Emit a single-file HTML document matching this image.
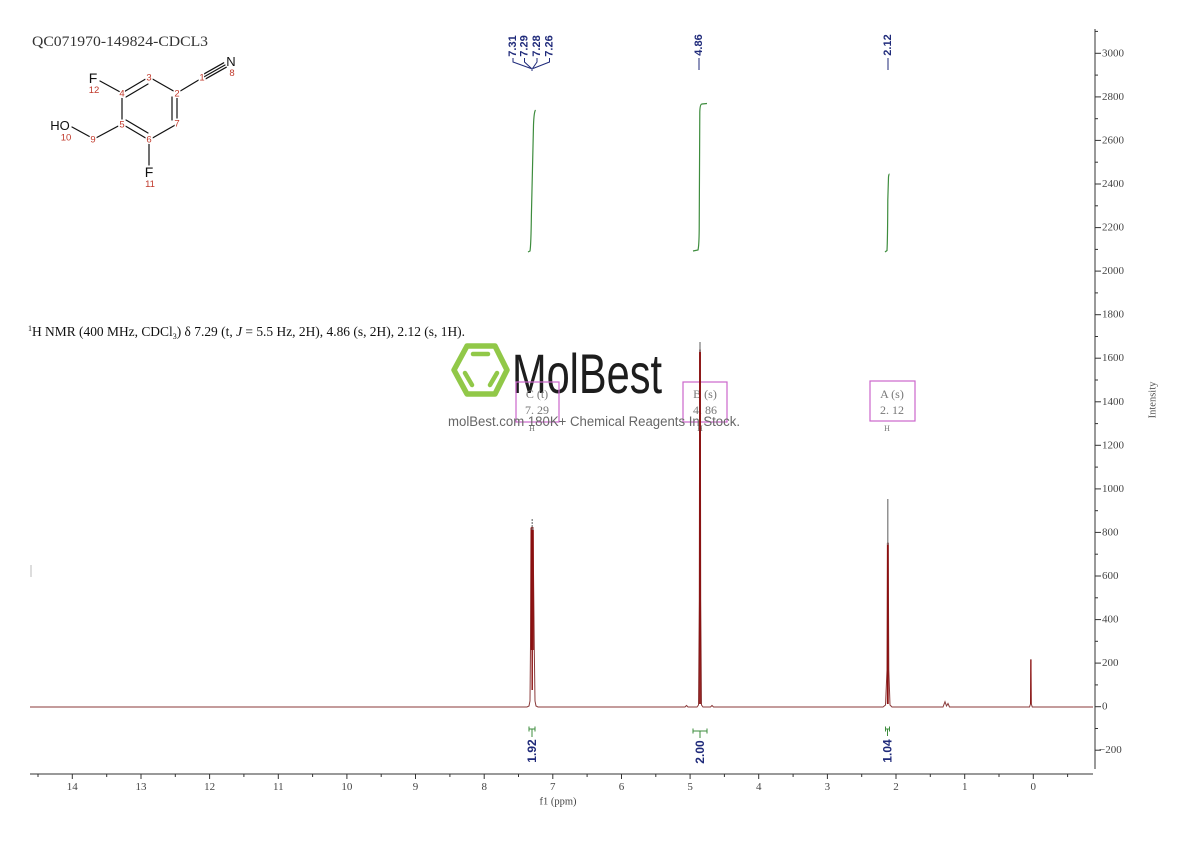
<!DOCTYPE html>
<html><head><meta charset="utf-8"><style>
html,body{margin:0;padding:0;background:#fff;}
svg{display:block;}
</style></head><body>
<svg width="1190" height="841" viewBox="0 0 1190 841" xmlns="http://www.w3.org/2000/svg">
<rect width="1190" height="841" fill="#fff"/>

<!-- Title -->
<text x="32" y="46" font-family="Liberation Serif, serif" font-size="15" fill="#333" textLength="176" lengthAdjust="spacingAndGlyphs">QC071970-149824-CDCL3</text>

<!-- Structure -->
<g stroke="#111" stroke-width="1.2" fill="none" stroke-linecap="round">
  <line x1="100" y1="81" x2="122" y2="93"/>
  <line x1="122" y1="93" x2="149" y2="77"/>
  <line x1="126" y1="97" x2="148" y2="84"/>
  <line x1="149" y1="77" x2="177" y2="93"/>
  <line x1="177" y1="93" x2="177" y2="124"/>
  <line x1="172" y1="97" x2="172" y2="120"/>
  <line x1="177" y1="124" x2="149" y2="140"/>
  <line x1="149" y1="140" x2="122" y2="124"/>
  <line x1="148" y1="133" x2="126" y2="120"/>
  <line x1="122" y1="124" x2="122" y2="93"/>
  <line x1="177" y1="93" x2="202" y2="78"/>
  <line x1="202" y1="78" x2="225" y2="65"/>
  <line x1="203.3" y1="80.2" x2="226.3" y2="67.2"/>
  <line x1="200.7" y1="75.8" x2="223.7" y2="62.8"/>
  <line x1="122" y1="124" x2="94" y2="139"/>
  <line x1="94" y1="139" x2="72" y2="127"/>
  <line x1="149" y1="140" x2="149" y2="165"/>
</g>
<g font-family="Liberation Sans, sans-serif" fill="#111">
  <text x="93" y="83" font-size="14" text-anchor="middle">F</text>
  <text x="149" y="177" font-size="14" text-anchor="middle">F</text>
  <text x="231" y="66" font-size="13" text-anchor="middle">N</text>
  <text x="60" y="130" font-size="13" text-anchor="middle">HO</text>
</g>
<g font-family="Liberation Sans, sans-serif" font-size="9.5" fill="#c0392b" text-anchor="middle" stroke="#fff" stroke-width="3" paint-order="stroke">
  <text x="94" y="93">12</text>
  <text x="122" y="96.5">4</text>
  <text x="149" y="80.5">3</text>
  <text x="177" y="96.5">2</text>
  <text x="177" y="126.5">7</text>
  <text x="149" y="142.5">6</text>
  <text x="122" y="127.5">5</text>
  <text x="202" y="80.5">1</text>
  <text x="232" y="76">8</text>
  <text x="93" y="142.5">9</text>
  <text x="66" y="140.5">10</text>
  <text x="150" y="187">11</text>
</g>

<!-- NMR description -->
<text x="28" y="336" font-family="Liberation Serif, serif" font-size="13.5" fill="#111" textLength="437" lengthAdjust="spacingAndGlyphs"><tspan font-size="8" dy="-5">1</tspan><tspan dy="5">H NMR (400 MHz, CDCl</tspan><tspan font-size="8" dy="3">3</tspan><tspan dy="-3">) δ 7.29 (t, </tspan><tspan font-style="italic">J</tspan><tspan> = 5.5 Hz, 2H), 4.86 (s, 2H), 2.12 (s, 1H).</tspan></text>

<!-- Right axis -->
<g stroke="#333" stroke-width="1">
  <line x1="1095" y1="29" x2="1095" y2="769"/>
  <line x1="1095" y1="31.4" x2="1098" y2="31.4"/>
  <line x1="1095" y1="53.3" x2="1101" y2="53.3"/>
  <line x1="1095" y1="75.1" x2="1098" y2="75.1"/>
  <line x1="1095" y1="96.9" x2="1101" y2="96.9"/>
  <line x1="1095" y1="118.7" x2="1098" y2="118.7"/>
  <line x1="1095" y1="140.4" x2="1101" y2="140.4"/>
  <line x1="1095" y1="162.2" x2="1098" y2="162.2"/>
  <line x1="1095" y1="184.0" x2="1101" y2="184.0"/>
  <line x1="1095" y1="205.8" x2="1098" y2="205.8"/>
  <line x1="1095" y1="227.6" x2="1101" y2="227.6"/>
  <line x1="1095" y1="249.4" x2="1098" y2="249.4"/>
  <line x1="1095" y1="271.1" x2="1101" y2="271.1"/>
  <line x1="1095" y1="292.9" x2="1098" y2="292.9"/>
  <line x1="1095" y1="314.7" x2="1101" y2="314.7"/>
  <line x1="1095" y1="336.5" x2="1098" y2="336.5"/>
  <line x1="1095" y1="358.2" x2="1101" y2="358.2"/>
  <line x1="1095" y1="380.0" x2="1098" y2="380.0"/>
  <line x1="1095" y1="401.8" x2="1101" y2="401.8"/>
  <line x1="1095" y1="423.6" x2="1098" y2="423.6"/>
  <line x1="1095" y1="445.3" x2="1101" y2="445.3"/>
  <line x1="1095" y1="467.1" x2="1098" y2="467.1"/>
  <line x1="1095" y1="488.9" x2="1101" y2="488.9"/>
  <line x1="1095" y1="510.7" x2="1098" y2="510.7"/>
  <line x1="1095" y1="532.4" x2="1101" y2="532.4"/>
  <line x1="1095" y1="554.2" x2="1098" y2="554.2"/>
  <line x1="1095" y1="576.0" x2="1101" y2="576.0"/>
  <line x1="1095" y1="597.8" x2="1098" y2="597.8"/>
  <line x1="1095" y1="619.6" x2="1101" y2="619.6"/>
  <line x1="1095" y1="641.3" x2="1098" y2="641.3"/>
  <line x1="1095" y1="663.1" x2="1101" y2="663.1"/>
  <line x1="1095" y1="684.9" x2="1098" y2="684.9"/>
  <line x1="1095" y1="706.7" x2="1101" y2="706.7"/>
  <line x1="1095" y1="728.5" x2="1098" y2="728.5"/>
  <line x1="1095" y1="750.2" x2="1101" y2="750.2"/>
</g>
<g font-family="Liberation Serif, serif" font-size="11" fill="#444" dominant-baseline="central">
  <text x="1102" y="53.3">3000</text>
  <text x="1102" y="96.9">2800</text>
  <text x="1102" y="140.4">2600</text>
  <text x="1102" y="184.0">2400</text>
  <text x="1102" y="227.6">2200</text>
  <text x="1102" y="271.1">2000</text>
  <text x="1102" y="314.7">1800</text>
  <text x="1102" y="358.2">1600</text>
  <text x="1102" y="401.8">1400</text>
  <text x="1102" y="445.3">1200</text>
  <text x="1102" y="488.9">1000</text>
  <text x="1102" y="532.4">800</text>
  <text x="1102" y="576.0">600</text>
  <text x="1102" y="619.6">400</text>
  <text x="1102" y="663.1">200</text>
  <text x="1102" y="706.7">0</text>
  <text x="1099" y="750.2">−200</text>
</g>
<text x="1153" y="400" transform="rotate(-90 1153 400)" font-family="Liberation Serif, serif" font-size="10.5" fill="#555" text-anchor="middle" dominant-baseline="central">Intensity</text>

<!-- X axis -->
<g stroke="#333" stroke-width="1">
  <line x1="30" y1="774" x2="1093" y2="774"/>
  <line x1="38.0" y1="774" x2="38.0" y2="777"/>
  <line x1="72.3" y1="774" x2="72.3" y2="779"/>
  <line x1="106.7" y1="774" x2="106.7" y2="777"/>
  <line x1="141.0" y1="774" x2="141.0" y2="779"/>
  <line x1="175.3" y1="774" x2="175.3" y2="777"/>
  <line x1="209.6" y1="774" x2="209.6" y2="779"/>
  <line x1="243.9" y1="774" x2="243.9" y2="777"/>
  <line x1="278.3" y1="774" x2="278.3" y2="779"/>
  <line x1="312.6" y1="774" x2="312.6" y2="777"/>
  <line x1="346.9" y1="774" x2="346.9" y2="779"/>
  <line x1="381.2" y1="774" x2="381.2" y2="777"/>
  <line x1="415.5" y1="774" x2="415.5" y2="779"/>
  <line x1="449.9" y1="774" x2="449.9" y2="777"/>
  <line x1="484.2" y1="774" x2="484.2" y2="779"/>
  <line x1="518.5" y1="774" x2="518.5" y2="777"/>
  <line x1="552.8" y1="774" x2="552.8" y2="779"/>
  <line x1="587.1" y1="774" x2="587.1" y2="777"/>
  <line x1="621.5" y1="774" x2="621.5" y2="779"/>
  <line x1="655.8" y1="774" x2="655.8" y2="777"/>
  <line x1="690.1" y1="774" x2="690.1" y2="779"/>
  <line x1="724.4" y1="774" x2="724.4" y2="777"/>
  <line x1="758.7" y1="774" x2="758.7" y2="779"/>
  <line x1="793.1" y1="774" x2="793.1" y2="777"/>
  <line x1="827.4" y1="774" x2="827.4" y2="779"/>
  <line x1="861.7" y1="774" x2="861.7" y2="777"/>
  <line x1="896.0" y1="774" x2="896.0" y2="779"/>
  <line x1="930.3" y1="774" x2="930.3" y2="777"/>
  <line x1="964.7" y1="774" x2="964.7" y2="779"/>
  <line x1="999.0" y1="774" x2="999.0" y2="777"/>
  <line x1="1033.3" y1="774" x2="1033.3" y2="779"/>
  <line x1="1067.6" y1="774" x2="1067.6" y2="777"/>
</g>
<g font-family="Liberation Serif, serif" font-size="11" fill="#444" text-anchor="middle" dominant-baseline="central">
  <text x="72.3" y="787">14</text>
  <text x="141.0" y="787">13</text>
  <text x="209.6" y="787">12</text>
  <text x="278.3" y="787">11</text>
  <text x="346.9" y="787">10</text>
  <text x="415.5" y="787">9</text>
  <text x="484.2" y="787">8</text>
  <text x="552.8" y="787">7</text>
  <text x="621.5" y="787">6</text>
  <text x="690.1" y="787">5</text>
  <text x="758.7" y="787">4</text>
  <text x="827.4" y="787">3</text>
  <text x="896.0" y="787">2</text>
  <text x="964.7" y="787">1</text>
  <text x="1033.3" y="787">0</text>
  <text x="558" y="802" font-size="10.5">f1 (ppm)</text>
</g>

<!-- Watermark -->
<g opacity="0.95">
  <polygon points="454,370 467,346 495,346 507,370 495,394 467,394" fill="none" stroke="#8cc63f" stroke-width="5.5" stroke-linejoin="round"/>
  <line x1="473" y1="354" x2="488" y2="354" stroke="#8cc63f" stroke-width="4.5" stroke-linecap="round"/>
  <line x1="465" y1="373" x2="472" y2="385" stroke="#8cc63f" stroke-width="4.5" stroke-linecap="round"/>
  <line x1="497" y1="373" x2="490" y2="385" stroke="#8cc63f" stroke-width="4.5" stroke-linecap="round"/>
  <text x="512" y="393" font-family="Liberation Sans, sans-serif" font-size="56" fill="#111" textLength="150" lengthAdjust="spacingAndGlyphs">MolBest</text>
</g>

<!-- Magenta peak boxes -->
<g fill="none" stroke="#cc66cc" stroke-width="1.2">
  <rect x="516" y="382" width="43" height="40"/>
  <rect x="683" y="382" width="44" height="40"/>
  <rect x="870" y="381" width="45" height="40"/>
</g>
<g font-family="Liberation Serif, serif" font-size="12" fill="#777" text-anchor="middle">
  <text x="537" y="398">C (t)</text>
  <text x="537" y="414">7. 29</text>
  <text x="705" y="398">B (s)</text>
  <text x="705" y="414">4. 86</text>
  <text x="892" y="398">A (s)</text>
  <text x="892" y="414">2. 12</text>
  <text x="532" y="431" font-size="8">H</text>
  <text x="700" y="431" font-size="8">H</text>
  <text x="887" y="431" font-size="8">H</text>
</g>
<text x="448" y="426" font-family="Liberation Sans, sans-serif" font-size="13.5" fill="#666" textLength="292" lengthAdjust="spacingAndGlyphs">molBest.com 180K+ Chemical Reagents In Stock.</text>

<!-- Integral curves -->
<g fill="none" stroke="#3d8c3d" stroke-width="1.2">
  <path d="M528,252 L530,251 Q531,245 531.4,215 L533.5,125 Q534,112 535.5,110"/>
  <path d="M693,251 L698,250 Q699,246 699.2,230 L699.8,112 Q700,104 702,104 L707,103.5"/>
  <path d="M885,252 L887,250.5 Q887.6,240 887.8,200 L888.5,177 Q888.8,174 889.5,174"/>
</g>

<!-- Spectrum -->
<path d="M30,707 H527 L529,706 L530,701 L530.5,646 L531,528 L532,527 L532.5,560 L533,527 L533.8,600 L534.3,650 L535,701 L536,706 L538,707 H685 L686.5,705.5 L688,707 H697 L698.5,705 L699.3,600 L699.7,350 L700.3,350 L700.7,600 L701.5,705 L703,707 H710.5 L712,705.5 L713.5,707 H883 L885.5,705 L887,670 L887.5,543 L888.2,543 L888.8,670 L890,705 L892,707 H943 L945,701.7 L946.5,706 L948,703.5 L949.5,707 H1029.5 L1030.5,704 L1030.9,659 L1031.3,704 L1032.3,707 H1093" fill="none" stroke="#8a3a3a" stroke-width="1"/>
<g stroke="#8b0f0f">
  <line x1="531.2" y1="528" x2="531.2" y2="650" stroke-width="1.2"/>
  <line x1="532.2" y1="528" x2="532.2" y2="690" stroke-width="1.4"/>
  <line x1="533.2" y1="530" x2="533.2" y2="650" stroke-width="1.2"/>
  <line x1="700" y1="352" x2="700" y2="704" stroke-width="1.8"/>
  <line x1="887.8" y1="543" x2="887.8" y2="704" stroke-width="1.8"/>
  <line x1="1030.9" y1="660" x2="1030.9" y2="704" stroke-width="1.3"/>
</g>
<g stroke="#777" stroke-width="1.2">
  <line x1="532.2" y1="519" x2="532.2" y2="530" stroke-dasharray="2,1"/>
  <line x1="700" y1="342" x2="700" y2="352"/>
  <line x1="887.8" y1="499" x2="887.8" y2="545"/>
</g>
<line x1="31" y1="565" x2="31" y2="577" stroke="#bbb" stroke-width="1"/>

<!-- Top peak labels -->
<g font-family="Liberation Sans, sans-serif" font-weight="bold" font-size="11" fill="#1f2a7a" text-anchor="middle" dominant-baseline="central">
  <text x="513" y="46" transform="rotate(-90 513 46)">7.31</text>
  <text x="524.5" y="46" transform="rotate(-90 524.5 46)">7.29</text>
  <text x="537" y="46" transform="rotate(-90 537 46)">7.28</text>
  <text x="549.5" y="46" transform="rotate(-90 549.5 46)">7.26</text>
  <text x="699" y="45" transform="rotate(-90 699 45)">4.86</text>
  <text x="888" y="45" transform="rotate(-90 888 45)">2.12</text>
</g>
<g stroke="#1f2a7a" stroke-width="1" fill="none">
  <polyline points="513,58 513,62 531,68.5"/>
  <polyline points="524.5,58 524.5,62 531.5,68.5"/>
  <polyline points="537,58 537,62 532.5,68.5"/>
  <polyline points="549.5,58 549.5,62 533,68.5"/>
  <line x1="532" y1="68" x2="532" y2="71"/>
  <line x1="699" y1="58" x2="699" y2="70"/>
  <line x1="888" y1="58" x2="888" y2="70"/>
</g>

<!-- Bottom integral labels -->
<g font-family="Liberation Sans, sans-serif" font-weight="bold" font-size="12" fill="#1f2a7a" text-anchor="middle" dominant-baseline="central">
  <text x="532" y="751" transform="rotate(-90 532 751)">1.92</text>
  <text x="700" y="752" transform="rotate(-90 700 752)">2.00</text>
  <text x="887.5" y="751" transform="rotate(-90 887.5 751)">1.04</text>
</g>
<g stroke="#3d8c3d" stroke-width="1" fill="none">
  <line x1="532" y1="729" x2="532" y2="737"/>
  <line x1="529" y1="729" x2="535" y2="729"/>
  <line x1="529" y1="726.5" x2="529" y2="731.5"/>
  <line x1="535" y1="726.5" x2="535" y2="731.5"/>
  <line x1="700" y1="731" x2="700" y2="738"/>
  <line x1="693" y1="731" x2="707" y2="731"/>
  <line x1="693" y1="728.5" x2="693" y2="733.5"/>
  <line x1="707" y1="728.5" x2="707" y2="733.5"/>
  <line x1="887.5" y1="729" x2="887.5" y2="736"/>
  <line x1="885.5" y1="729" x2="889.5" y2="729"/>
  <line x1="885.5" y1="726.5" x2="885.5" y2="731.5"/>
  <line x1="889.5" y1="726.5" x2="889.5" y2="731.5"/>
</g>
</svg>
</body></html>
